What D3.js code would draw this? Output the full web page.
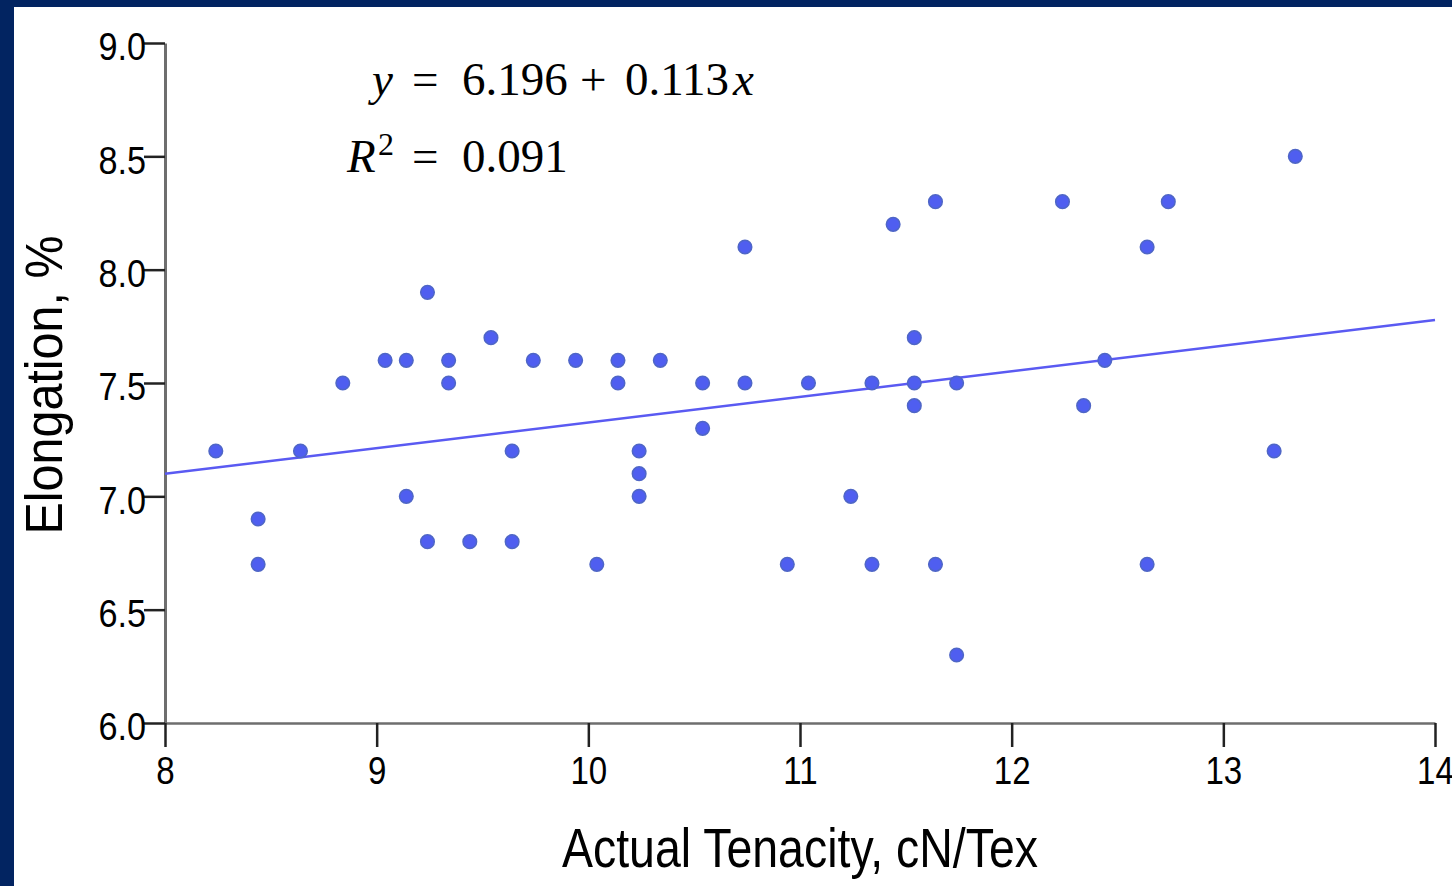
<!DOCTYPE html>
<html>
<head>
<meta charset="utf-8">
<script src="https://cdn.jsdelivr.net/npm/d3@7"></script>
<style>
  body { margin: 0; background: #fff; }
  svg { display: block; }
</style>
</head>
<body>
<svg id="chart"></svg>
<script>
// tenacity (x) and elongation (y)
const tenacity = [8.24, 8.44, 8.44, 8.64, 8.84, 9.04, 9.14, 9.14, 9.24, 9.24,
  9.34, 9.34, 9.44, 9.54, 9.64, 9.64, 9.74, 9.94, 10.04, 10.14,
  10.14, 10.24, 10.24, 10.24, 10.34, 10.54, 10.54, 10.74, 10.74, 10.94,
  11.04, 11.24, 11.34, 11.34, 11.44, 11.54, 11.54, 11.54, 11.64, 11.64,
  11.74, 11.74, 12.24, 12.34, 12.44, 12.64, 12.64, 12.74, 13.24, 13.34];
const elongation = [7.2, 6.9, 6.7, 7.2, 7.5, 7.6, 7.6, 7.0, 7.9, 6.8,
  7.6, 7.5, 6.8, 7.7, 7.2, 6.8, 7.6, 7.6, 6.7, 7.6,
  7.5, 7.2, 7.1, 7.0, 7.6, 7.5, 7.3, 8.1, 7.5, 6.7,
  7.5, 7.0, 7.5, 6.7, 8.2, 7.7, 7.5, 7.4, 8.3, 6.7,
  7.5, 6.3, 8.3, 7.4, 7.6, 8.1, 6.7, 8.3, 7.2, 8.5];

const xTicks = [8, 9, 10, 11, 12, 13, 14];
const yTicks = [6.0, 6.5, 7.0, 7.5, 8.0, 8.5, 9.0];
const intercept = 6.196;
const slope = 0.113;
const r2 = 0.091;

const width = 1452;
const height = 886;
const colors = {
  frame: '#022461',
  axis: '#6e6e6e',
  tick: '#222',
  dot: '#4f5ef0',
  dotEdge: '#4f66c6',
  fit: '#5a5af2'
};

const svg = d3.select('#chart')
  .attr('width', width)
  .attr('height', height);

svg.append('rect')
  .attr('width', width).attr('height', height)
  .attr('fill', colors.frame);
svg.append('rect')
  .attr('x', 14).attr('y', 7)
  .attr('width', width - 14).attr('height', height - 7)
  .attr('fill', '#fff');

const x = d3.scaleLinear().domain([8, 14]).range([165, 1435]);
const y = d3.scaleLinear().domain([6, 9]).range([723, 43]);

const sans = '"Liberation Sans", Arial, sans-serif';

// y axis
const yAxis = svg.append('g')
  .attr('transform', 'translate(' + x(8) + ',0)')
  .call(d3.axisLeft(y).tickValues(yTicks).tickFormat(d3.format('.1f'))
    .tickSize(21).tickSizeOuter(0).tickPadding(0));
yAxis.select('.domain').attr('stroke', colors.axis).attr('stroke-width', 3);
yAxis.selectAll('.tick line').attr('stroke', colors.tick).attr('stroke-width', 2.5);
yAxis.selectAll('.tick text')
  .attr('font-family', sans).attr('font-size', 38).attr('fill', '#000')
  .attr('dy', '0.44em')
  .attr('transform', 'scale(0.9,1)');

// x axis
const xAxis = svg.append('g')
  .attr('transform', 'translate(0,' + y(6) + ')')
  .call(d3.axisBottom(x).tickValues(xTicks).tickFormat(d3.format('d'))
    .tickSize(24).tickSizeOuter(0).tickPadding(10));
xAxis.select('.domain').attr('stroke', colors.axis).attr('stroke-width', 2.5);
xAxis.selectAll('.tick line').attr('stroke', colors.tick).attr('stroke-width', 2.5);
xAxis.selectAll('.tick text')
  .attr('font-family', sans).attr('font-size', 38).attr('fill', '#000')
  .attr('dy', '0.72em')
  .attr('transform', 'scale(0.87,1)');

// fit line
svg.append('line')
  .attr('x1', x(8)).attr('y1', y(intercept + slope * 8))
  .attr('x2', x(14)).attr('y2', y(intercept + slope * 14))
  .attr('stroke', colors.fit).attr('stroke-width', 2.5);

// points
svg.append('g').selectAll('circle')
  .data(tenacity.map((t, i) => [t, elongation[i]]))
  .enter().append('circle')
    .attr('cx', d => x(d[0]))
    .attr('cy', d => y(d[1]))
    .attr('r', 6.8)
    .attr('fill', colors.dot)
    .attr('stroke', colors.dotEdge)
    .attr('stroke-width', 1.5);

// axis titles
svg.append('text')
  .attr('transform', 'translate(800,867) scale(0.83,1)')
  .attr('text-anchor', 'middle')
  .attr('font-family', sans).attr('font-size', 56)
  .text('Actual Tenacity, cN/Tex');

svg.append('text')
  .attr('transform', 'translate(62,385) rotate(-90) scale(0.95,1)')
  .attr('text-anchor', 'middle')
  .attr('font-family', sans).attr('font-size', 51)
  .text('Elongation, %');

// equation
const serif = '"Liberation Serif", "DejaVu Serif", serif';
const eq = svg.append('g')
  .attr('font-family', serif).attr('font-size', 47).attr('fill', '#000');

function piece(txt, px, py, italic, size) {
  eq.append('text')
    .attr('x', px).attr('y', py)
    .attr('font-style', italic ? 'italic' : 'normal')
    .attr('font-size', size || 47)
    .text(txt);
}
piece('y', 372, 95, true);
piece('=', 412, 95);
piece(d3.format('.3f')(intercept), 462, 95);
piece('+', 580, 95);
piece(d3.format('.3f')(slope), 625, 95);
piece('x', 733, 95, true);

piece('R', 347, 172, true);
piece('2', 378, 155, false, 32);
piece('=', 412, 172);
piece(d3.format('.3f')(r2), 462, 172);
</script>
</body>
</html>
